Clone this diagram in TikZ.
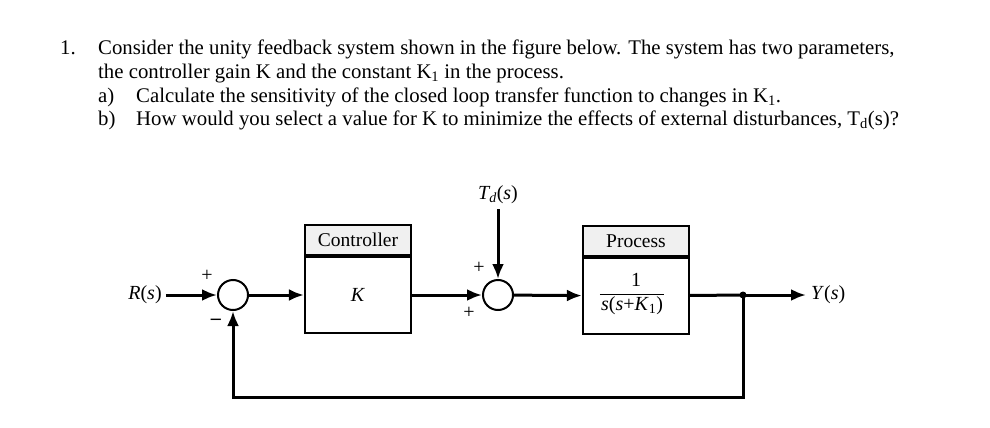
\documentclass[tikz,border=0pt]{standalone}
\usepackage{fontspec}
\setmainfont{Liberation Serif}
\usetikzlibrary{arrows.meta}
\begin{document}
\begin{tikzpicture}[x=1pt,y=1pt,
 sig/.style={line width=3pt, -{Latex[length=15pt,width=12pt]}},
 wire/.style={line width=3pt},
 sumj/.style={circle, draw, line width=2pt, minimum size=30pt, inner sep=0pt},
 blk/.style={draw, line width=2.2pt, minimum width=106pt, minimum height=76pt, inner sep=0pt, font=\fontsize{20}{20}\selectfont},
 hdr/.style={draw, line width=2.2pt, fill=gray!12, minimum width=106pt, minimum height=30pt, inner sep=0pt, font=\fontsize{19.5}{20}\selectfont},
 lbl/.style={inner sep=1pt, font=\fontsize{20}{20}\selectfont},
 sgn/.style={inner sep=0pt, font=\fontsize{20}{20}\selectfont},
 txt/.style={anchor=base west, inner sep=0pt, font=\fontsize{20.8}{24}\selectfont}
]
\useasboundingbox (0,0) rectangle (990,-428);
% problem text
\node[txt] (n1) at (60,-55) {1.};
\node[txt] (l1) at (98,-55) {Consider the unity feedback system shown in the figure below. The system has two parameters,};
\node[txt] (l2) at (98,-78) {the controller gain K and the constant K\textsubscript{1} in the process.};
\node[txt] (la) at (98,-102) {a)};
\node[txt] (l3) at (136,-102) {Calculate the sensitivity of the closed loop transfer function to changes in K\textsubscript{1}.};
\node[txt] (lb) at (98,-125) {b)};
\node[txt] (l4) at (136,-125) {How would you select a value for K to minimize the effects of external disturbances, T\textsubscript{d}(s)?};
% diagram
\node[sumj] (s1) at (233,-295) {};
\node[sumj] (s2) at (498,-295) {};
\node[blk] (ctrl) at (358,-295) {\textit{K}};
\node[hdr, anchor=south] (ctrlh) at (ctrl.north) {Controller};
\node[blk] (proc) at (636,-296) {};
\node[hdr, anchor=south] (proch) at (proc.north) {Process};
\node[lbl] (num) at (636,-280) {1};
\node[lbl] (den) at (632,-306) {\textit{s}(\textit{s}+\textit{K}\textsubscript{1})};
\draw[line width=1.2pt] ([yshift=1pt]den.north west) -- ([yshift=1pt]den.north east);
\node[lbl] (R) at (145,-295) {\textit{R}(\textit{s})};
\node[lbl, anchor=west] (Y) at (810,-295) {\textit{Y}(\textit{s})};
\node[lbl] (Td) at (498,-195) {\textit{T\textsubscript{d}}(\textit{s})};
\coordinate (j) at (743,-295);
\coordinate (br) at (743,-397);
\coordinate (bl) at (233,-397);
\draw[sig, shorten <=3pt] (R.east) -- (s1.west);
\draw[sig] (s1) -- (ctrl);
\draw[sig] (ctrl) -- (s2);
\draw[sig] (s2) -- (proc);
\draw[wire] (proc) -- (j);
\draw[sig] (j) -- ([xshift=-4pt]Y.west);
\fill (j) circle (3.5pt);
\draw[sig] (j) -- (br) -- (bl) -- (s1.south);
\draw[sig, shorten <=4pt] (Td.south) -- (s2.north);
\node[sgn] (p1) at (207,-276) {+};
\node[sgn] (m1) at (216,-322) {\textbf{–}};
\node[sgn] (p2) at (479,-268) {+};
\node[sgn] (p3) at (469,-313) {+};
\end{tikzpicture}
\end{document}
